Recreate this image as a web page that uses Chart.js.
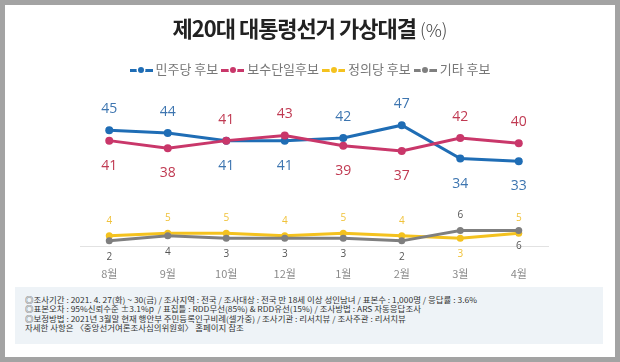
<!DOCTYPE html>
<html>
<head>
  <meta charset="utf-8" />
  <title>제20대 대통령선거 가상대결</title>
  <script src="https://cdn.jsdelivr.net/npm/chart.js"></script>
  <style>
    body { margin: 0; font-family: "Noto Sans CJK KR", sans-serif; }
    #wrap { position: relative; width: 620px; height: 362px; background: #fff; overflow: hidden; }
    #wrap canvas { position: absolute; left: 0; top: 0; }
    #frame { position: absolute; left: 0; top: 0; width: 620px; height: 362px; box-sizing: border-box;
             border: 5px solid #a3a3a3; pointer-events: none; }
    #title { position: absolute; left: 0; width: 620px; top: 10px; text-align: center; color: #222;
             font-size: 22px; font-weight: 700; letter-spacing: -1px; line-height: 34px; }
    #title span { font-weight: 300; font-size: 18px; letter-spacing: 0; color: #444; }
    #legend { position: absolute; left: 0; width: 620px; top: 59px; text-align: center; color: #777;
              font-size: 13px; line-height: 20px; white-space: nowrap; }
    #legend .item { margin-left: 3px; }
    #legend .item:first-child { margin-left: 0; }
    #legend .sym { display: inline-block; position: relative; width: 23px; height: 3px; margin-right: 3px;
                   vertical-align: middle; }
    #legend .sym::after { content: ""; position: absolute; left: 8.5px; top: -1.5px; width: 6px; height: 6px;
                          border-radius: 50%; background: inherit; box-shadow: 0 0 0 1.5px #fff; }
    #note { position: absolute; left: 15px; top: 287px; width: 588px; height: 57px; background: #eef3f7; }
    #noteText { position: absolute; left: 10px; top: 8px; color: #333; font-size: 8px; line-height: 9.3px;
                white-space: nowrap; transform-origin: 0 0; }
  </style>
</head>
<body>
<div id="wrap">
  <canvas id="pollChart" width="620" height="362"></canvas>
  <div id="title">제20대 대통령선거 가상대결 <span>(%)</span></div>
  <div id="legend"></div>
  <div id="note"><div id="noteText">
    <div>◎조사기간 : 2021. 4. 27(화) ~ 30(금) / 조사지역 : 전국 / 조사대상 : 전국 만 18세 이상 성인남녀 / 표본수 : 1,000명 / 응답률 : 3.6%</div>
    <div>◎표본오차 : 95%신뢰수준 ±3.1%p &nbsp;/ 표집틀 : RDD무선(85%) &amp; RDD유선(15%) / 조사방법 : ARS 자동응답조사</div>
    <div>◎보정방법 : 2021년 3월말 현재 행안부 주민등록인구비례(셀가중) / 조사기관 : 리서치뷰 / 조사주관 : 리서치뷰</div>
    <div>자세한 사항은 〈중앙선거여론조사심의위원회〉 홈페이지 참조</div>
  </div></div>
  <div id="frame"></div>
</div>

<script>
  // months on the x axis
  const months = ['8월', '9월', '10월', '12월', '1월', '2월', '3월', '4월'];

  // support (%) per candidate
  const democratic = [45, 44, 41, 41, 42, 47, 34, 33];
  const conservative = [41, 38, 41, 43, 39, 37, 42, 40];
  const justice = [4, 5, 5, 4, 5, 4, 3, 5];
  const others = [2, 4, 3, 3, 3, 2, 6, 6];

  const seriesNames = ['민주당 후보', '보수단일후보', '정의당 후보', '기타 후보'];
  const lineColors = ['#1f6db5', '#c9376a', '#f4c21f', '#7f7f7f'];
  const labelColors = ['#3d75b0', '#c03a52', '#f0c23a', '#555555'];

  // which side of the point the number goes
  const demSide = democratic.map((v, i) => v > conservative[i] ? 'up' : 'down');
  const conSide = conservative.map((v, i) => v >= democratic[i] ? 'up' : 'down');
  const jusSide = justice.map((v, i) => v >= others[i] - 1 ? 'up' : 'down');
  const othSide = others.map((v, i) => v >= justice[i] + 2 ? 'up' : 'down');

  // html legend
  document.getElementById('legend').innerHTML = seriesNames.map((n, i) =>
    `<span class="item"><i class="sym" style="background:${lineColors[i]}"></i>${n}</span>`).join('');

  // squeeze the footnote to its width in the picture
  const noteText = document.getElementById('noteText');
  const firstLine = noteText.firstElementChild;
  const sc = 452 / firstLine.getBoundingClientRect().width;
  noteText.style.transform = `scaleX(${sc})`;

  const valueLabels = {
    id: 'valueLabels',
    afterDatasetsDraw(chart) {
      const ctx = chart.ctx;
      chart.data.datasets.forEach((ds, i) => {
        const meta = chart.getDatasetMeta(i);
        ctx.save();
        ctx.font = ds.labelFont;
        ctx.fillStyle = ds.labelColor;
        ctx.textAlign = 'center';
        ctx.textBaseline = 'middle';
        meta.data.forEach((pt, j) => {
          const dy = ds.labelSide[j] === 'up' ? -ds.labelUp : ds.labelDown;
          ctx.fillText(ds.data[j], pt.x, pt.y + dy);
        });
        ctx.restore();
      });
    }
  };

  function bigLine(idx, data, side, order) {
    return {
      label: seriesNames[idx], data: data,
      borderColor: lineColors[idx], backgroundColor: lineColors[idx],
      borderWidth: 3, pointRadius: 4, pointBorderWidth: 0, tension: 0, order: order,
      labelColor: labelColors[idx], labelSide: side, labelFont: '14px "Open Sans", sans-serif',
      labelUp: 21, labelDown: 25
    };
  }
  function smallLine(idx, data, side, order) {
    return {
      label: seriesNames[idx], data: data,
      borderColor: lineColors[idx], backgroundColor: lineColors[idx],
      borderWidth: 3, pointRadius: 3.5, pointBorderWidth: 0, tension: 0, order: order,
      labelColor: labelColors[idx], labelSide: side, labelFont: '10px "Open Sans", sans-serif',
      labelUp: 15, labelDown: 16
    };
  }

  const ctx = document.getElementById('pollChart').getContext('2d');
  const pollChart = new Chart(ctx, {
    type: 'line',
    data: {
      labels: months,
      datasets: [
        bigLine(0, democratic, demSide, 1),
        bigLine(1, conservative, conSide, 0),
        smallLine(2, justice, jusSide, 3),
        smallLine(3, others, othSide, 2)
      ]
    },
    options: {
      responsive: false,
      animation: false,
      layout: { padding: { left: 80, right: 72, top: 117.5, bottom: 76 } },
      plugins: { legend: { display: false }, tooltip: { enabled: false } },
      scales: {
        y: { display: false, min: 0, max: 50 },
        x: {
          offset: true,
          grid: { display: false, drawTicks: false },
          border: { display: true, color: '#e2e2e2', width: 1 },
          ticks: { color: '#8a8a8a', font: { size: 11, family: '"Noto Sans CJK KR"' }, padding: 21 },
          afterFit: (scale) => { scale.height = 40; }
        }
      }
    },
    plugins: [valueLabels]
  });
</script>
</body>
</html>
